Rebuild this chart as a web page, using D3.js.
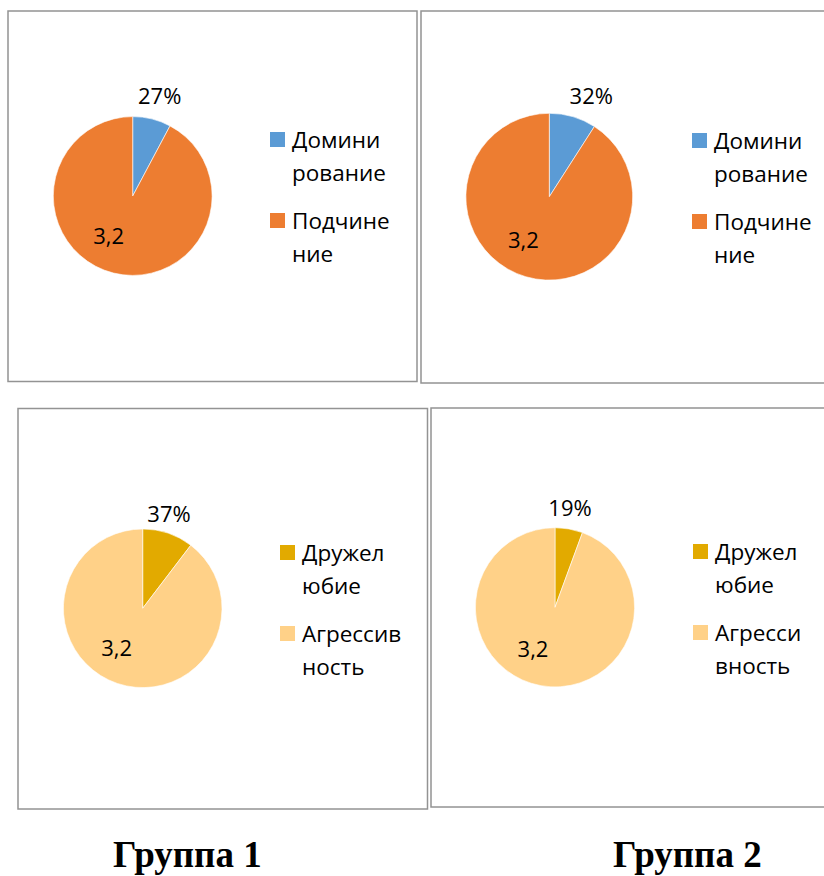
<!DOCTYPE html>
<html>
<head>
<meta charset="utf-8">
<script src="https://cdn.jsdelivr.net/npm/d3@7"></script>
<style>
    body { margin: 0; background: #fff; }
</style>
</head>
<body>
<div id="chart"></div>
<script>
// Chart data
const categoriesTop = ["Доминирование", "Подчинение"];
const categoriesBottom = ["Дружелюбие", "Агрессивность"];

const valuesTopGroup1 = [0.27, 3.2];
const valuesTopGroup2 = [0.32, 3.2];
const valuesBottomGroup1 = [0.37, 3.2];
const valuesBottomGroup2 = [0.19, 3.2];

// legend labels as they wrap inside each chart box
const legendTopGroup1 = [["Домини", "рование"], ["Подчине", "ние"]];
const legendTopGroup2 = [["Домини", "рование"], ["Подчине", "ние"]];
const legendBottomGroup1 = [["Дружел", "юбие"], ["Агрессив", "ность"]];
const legendBottomGroup2 = [["Дружел", "юбие"], ["Агресси", "вность"]];

const groupTitles = ["Группа 1", "Группа 2"];

const colorsTop = ["#5B9BD5", "#ED7D31"];
const colorsBottom = ["#E2AA00", "#FFD188"];

class PieChart {
    constructor(svg, config) {
        this.svg = svg;
        this.config = config;
        this.initVis();
    }

    initVis() {
        const vis = this;
        const c = vis.config;

        // chart frame
        vis.svg.append("rect")
            .attr("x", c.box[0])
            .attr("y", c.box[1])
            .attr("width", c.box[2])
            .attr("height", c.box[3])
            .attr("fill", "#fff")
            .attr("stroke", "#939393")
            .attr("stroke-width", 1.5);

        vis.g = vis.svg.append("g")
            .attr("transform", `translate(${c.cx},${c.cy})`);

        vis.color = d3.scaleOrdinal()
            .domain(c.categories)
            .range(c.colors);

        vis.pie = d3.pie()
            .sort(null)
            .value(d => d.value);

        vis.arc = d3.arc()
            .innerRadius(0)
            .outerRadius(c.r);

        vis.data = c.categories.map((name, i) => ({ name: name, value: c.values[i] }));

        vis.g.selectAll(".slice")
            .data(vis.pie(vis.data))
            .enter().append("path")
            .attr("class", "slice")
            .attr("d", vis.arc)
            .attr("fill", d => vis.color(d.data.name))
            .attr("stroke", "#fff")
            .attr("stroke-width", 0.6);

        // data labels: first slice as percent, second as decimal with comma
        const fmtPct = d3.format(".0%");
        const fmtNum = v => d3.format(".1f")(v).replace(".", ",");

        vis.g.selectAll(".label")
            .data(vis.pie(vis.data))
            .enter().append("text")
            .attr("class", "label")
            .attr("x", (d, i) => c.labelPos[i][0])
            .attr("y", (d, i) => c.labelPos[i][1])
            .attr("text-anchor", "middle")
            .style("font-family", "'Open Sans', sans-serif")
            .style("font-size", "22px")
            .style("fill", "#000")
            .text((d, i) => i === 0 ? fmtPct(d.data.value) : fmtNum(d.data.value));

        // legend
        const legend = vis.svg.selectAll(null)
            .data(c.categories)
            .enter().append("g")
            .attr("transform", (d, i) => `translate(${c.legend[0]},${c.legend[1] + i * 81})`);

        legend.append("rect")
            .attr("width", 15)
            .attr("height", 15)
            .attr("fill", d => vis.color(d));

        legend.append("text")
            .attr("x", 22)
            .attr("y", 16)
            .style("font-family", "'Open Sans', sans-serif")
            .style("font-size", "22.5px")
            .style("fill", "#000")
            .selectAll("tspan")
            .data((d, i) => c.legendLines[i])
            .enter().append("tspan")
            .attr("x", 22)
            .attr("dy", (d, j) => j === 0 ? 0 : 32.5)
            .text(d => d);
    }
}

const svg = d3.select("#chart").append("svg")
    .attr("width", 824)
    .attr("height", 876);

const panels = [
    {
        categories: categoriesTop, values: valuesTopGroup1, colors: colorsTop, legendLines: legendTopGroup1,
        box: [8, 11, 409, 370.5], cx: 132.7, cy: 196, r: 79.4,
        labelPos: [[27, -92], [-24, 48]], legend: [270, 132]
    },
    {
        categories: categoriesTop, values: valuesTopGroup2, colors: colorsTop, legendLines: legendTopGroup2,
        box: [421, 11, 420, 372], cx: 549.3, cy: 196.7, r: 83.4,
        labelPos: [[42, -92.5], [-26, 51.5]], legend: [692, 133]
    },
    {
        categories: categoriesBottom, values: valuesBottomGroup1, colors: colorsBottom, legendLines: legendBottomGroup1,
        box: [18, 408.5, 409.5, 400.5], cx: 142.7, cy: 608.3, r: 79.3,
        labelPos: [[26.3, -86.5], [-26, 48]], legend: [280, 545]
    },
    {
        categories: categoriesBottom, values: valuesBottomGroup2, colors: colorsBottom, legendLines: legendBottomGroup2,
        box: [431, 408, 420, 399], cx: 555, cy: 607.3, r: 79.6,
        labelPos: [[15, -91.5], [-22, 49.4]], legend: [693, 544]
    }
];

panels.forEach(p => new PieChart(svg, p));

// group captions under the charts
svg.selectAll(".caption")
    .data(groupTitles)
    .enter().append("text")
    .attr("class", "caption")
    .attr("x", (d, i) => i === 0 ? 113 : 613)
    .attr("y", 867)
    .style("font-family", "'Liberation Serif', 'Times New Roman', serif")
    .style("font-weight", "bold")
    .style("font-size", "37px")
    .style("fill", "#000")
    .text(d => d);
</script>
</body>
</html>
